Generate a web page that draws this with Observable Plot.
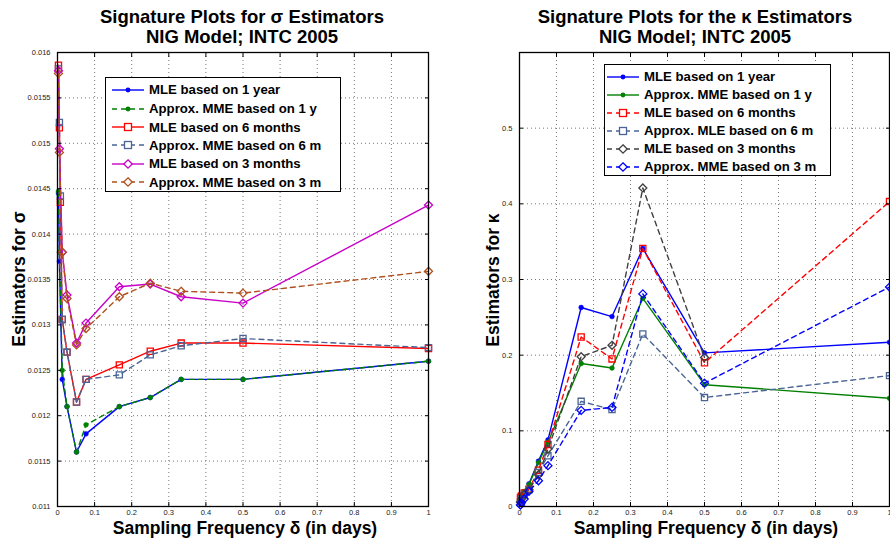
<!DOCTYPE html>
<html><head><meta charset="utf-8">
<script src="https://cdn.jsdelivr.net/npm/d3@7"></script>
<script src="https://cdn.jsdelivr.net/npm/@observablehq/plot@0.6"></script>
<style>
body{margin:0;background:#fff;}
#wrap{position:relative;width:890px;height:541px;overflow:hidden;font-family:"Liberation Sans",Arial,sans-serif;color:#000;}
.pl{position:absolute;top:0;}
.title{position:absolute;font-weight:bold;font-size:18.5px;line-height:20px;text-align:center;width:400px;white-space:nowrap;}
.xlab{position:absolute;font-weight:bold;font-size:17.5px;line-height:20px;text-align:center;width:400px;white-space:nowrap;}
.ylab{position:absolute;font-weight:bold;font-size:17.5px;white-space:nowrap;transform:translate(-50%,-50%) rotate(-90deg);}
.legend{position:absolute;border:1px solid #000;background:#fff;}
.lrow{position:absolute;left:0;display:flex;align-items:center;font-weight:bold;font-size:13.2px;white-space:nowrap;}
.lrow svg{flex:none;}
</style></head>
<body><div id="wrap"></div>
<script>
// x positions: sampling frequency in days (1,2,3,5,10,20,30 min of a 390-min day, then 1/6,1/4,1/3,1/2,1 day)
const xDays = [1/390, 2/390, 3/390, 5/390, 10/390, 20/390, 30/390, 1/6, 1/4, 1/3, 1/2, 1];
const xTicks = [0, 0.1, 0.2, 0.3, 0.4, 0.5, 0.6, 0.7, 0.8, 0.9, 1];
const sigmaTicks = [0.011, 0.0115, 0.012, 0.0125, 0.013, 0.0135, 0.014, 0.0145, 0.015, 0.0155, 0.016];
const kappaTicks = [0, 0.1, 0.2, 0.3, 0.4, 0.5];

// Left panel: sigma estimators
const sigmaLabels = ["MLE based on 1 year", "Approx. MME based on 1 y", "MLE based on 6 months",
  "Approx. MME based on 6 m", "MLE based on 3 months", "Approx. MME based on 3 m"];
const sigmaMle1y  = [0.01445, 0.0137, null, 0.0124, 0.0121, 0.0116, 0.0118, 0.0121, 0.0122, 0.0124, 0.0124, 0.0126];
const sigmaMme1y  = [0.01447, 0.0138, null, 0.0125, 0.0121, 0.0116, 0.0119, 0.0121, 0.0122, 0.0124, 0.0124, 0.0126];
const sigmaMle6m  = [0.01586, 0.01517, 0.01435, 0.01306, 0.0127, 0.01215, 0.0124, 0.01256, 0.01271, 0.0128, 0.0128, 0.01274];
const sigmaMme6m  = [0.01582, 0.01523, 0.01442, 0.01306, 0.0127, 0.01215, 0.0124, 0.01245, 0.01267, 0.01277, 0.01285, 0.01275];
const sigmaMle3m  = [0.0158, 0.01494, null, 0.0138, 0.01333, 0.0128, 0.01302, 0.01342, 0.01345, 0.01331, 0.01324, 0.01432];
const sigmaMme3m  = [0.01577, 0.0149, null, 0.0138, 0.01329, 0.01278, 0.01296, 0.01331, 0.01346, 0.01337, 0.01335, 0.01359];
const sigmaColors = ["#0000ff", "#008000", "#ff0000", "#4a6595", "#c800c8", "#b0501e"];
const sigmaDashes = [null, "5,4", null, "5,4", null, "5,4"];
const sigmaSymbols = ["dot", "dot", "square", "square", "diamond", "diamond"];

// Right panel: kappa estimators
const kappaLabels = ["MLE based on 1 year", "Approx. MME based on 1 y", "MLE based on 6 months",
  "Approx. MLE based on 6 m", "MLE based on 3 months", "Approx. MME based on 3 m"];
const kappaMle1y  = [0.008, 0.012, null, 0.018, 0.030, 0.060, 0.088, 0.263, 0.251, 0.341, 0.203, 0.217];
const kappaMme1y  = [0.008, 0.013, null, 0.020, 0.029, 0.058, 0.085, 0.189, 0.183, 0.275, 0.161, 0.143];
const kappaMle6m  = [0.012, 0.014, null, 0.018, 0.023, 0.048, 0.082, 0.224, 0.195, 0.341, 0.190, 0.403];
const kappaAmle6m = [0.005, 0.010, null, 0.015, 0.022, 0.045, 0.067, 0.139, 0.128, 0.228, 0.144, 0.173];
const kappaMle3m  = [0.006, 0.010, null, 0.016, 0.022, 0.042, 0.076, 0.198, 0.213, 0.421, 0.197, null];
const kappaMme3m  = [0.002, 0.005, null, 0.010, 0.020, 0.034, 0.054, 0.127, 0.131, 0.281, 0.163, 0.290];
const kappaColors = ["#0000ff", "#008000", "#ff0000", "#4a6595", "#404040", "#0000ff"];
const kappaDashes = [null, null, "5,4", "5,4", "5,4", "5,4"];
const kappaSymbols = ["dot", "dot", "square", "square", "diamond", "diamond"];

const fmt = d => String(+d.toFixed(4));

function seriesMarks(series, colors, dashes, symbols) {
  const marks = [];
  series.forEach((vals, i) => {
    const data = vals.map((v, j) => ({x: xDays[j], y: v})).filter(d => d.y != null);
    marks.push(Plot.line(data, {x: "x", y: "y", stroke: colors[i], strokeWidth: 1.4,
      strokeDasharray: dashes[i] || undefined}));
    if (symbols[i] === "dot") {
      marks.push(Plot.dot(data, {x: "x", y: "y", r: 2.4, fill: colors[i], stroke: colors[i], strokeWidth: 0.5}));
    } else {
      marks.push(Plot.dot(data, {x: "x", y: "y", r: symbols[i] === "square" ? 3.9 : 3.6,
        symbol: symbols[i] === "square" ? "square2" : "diamond2", fill: "none", stroke: colors[i], strokeWidth: 1.3}));
    }
  });
  return marks;
}

function panel(series, colors, dashes, symbols, yDomain, yTicks, marginLeft, marginRight) {
  return Plot.plot({
    width: 445, height: 541,
    marginLeft, marginRight, marginTop: 52, marginBottom: 35,
    style: {fontFamily: "Liberation Sans, Arial, sans-serif", fontSize: "7.5px", background: "transparent", color: "#222", overflow: "visible"},
    x: {domain: [0, 1]},
    y: {domain: yDomain},
    marks: [
      Plot.gridX(xTicks, {stroke: "#777", strokeOpacity: 1, strokeDasharray: "1,3"}),
      Plot.gridY(yTicks, {stroke: "#777", strokeOpacity: 1, strokeDasharray: "1,3"}),
      ...seriesMarks(series, colors, dashes, symbols),
      Plot.axisX(xTicks, {anchor: "bottom", tickSize: 0, tickPadding: 3, tickFormat: fmt, label: null}),
      Plot.axisY(yTicks, {anchor: "left", tickSize: 0, tickPadding: 7, tickFormat: fmt, label: null}),
      Plot.axisX(xTicks, {anchor: "bottom", tickSize: -4, tickFormat: () => "", label: null, stroke: "#000"}),
      Plot.axisX(xTicks, {anchor: "top", tickSize: -4, tickFormat: () => "", label: null, stroke: "#000"}),
      Plot.axisY(yTicks, {anchor: "left", tickSize: -4, tickFormat: () => "", label: null, stroke: "#000"}),
      Plot.axisY(yTicks, {anchor: "right", tickSize: -4, tickFormat: () => "", label: null, stroke: "#000"}),
      Plot.frame({stroke: "#000", strokeWidth: 1.3})
    ]
  });
}

function markerSvg(color, dash, symbol) {
  let m = "";
  if (symbol === "dot") m = `<circle cx="16" cy="6" r="2.4" fill="${color}"/>`;
  else if (symbol === "square") m = `<rect x="12.5" y="2.5" width="7" height="7" fill="#fff" stroke="${color}" stroke-width="1.3"/>`;
  else m = `<polygon points="16,1.8 20.2,6 16,10.2 11.8,6" fill="#fff" stroke="${color}" stroke-width="1.3"/>`;
  return `<svg width="32" height="12"><line x1="0" y1="6" x2="32" y2="6" stroke="${color}" stroke-width="1.4" ${dash ? `stroke-dasharray="${dash}"` : ""}/>${m}</svg>`;
}

function legend(left, top, w, h, rowTops, labels, colors, dashes, symbols, padLeft, gap) {
  const d = document.createElement("div");
  d.className = "legend";
  Object.assign(d.style, {left: left + "px", top: top + "px", width: w + "px", height: h + "px"});
  labels.forEach((lab, i) => {
    const r = document.createElement("div");
    r.className = "lrow";
    r.style.top = rowTops[i] + "px";
    r.style.left = padLeft + "px";
    r.innerHTML = markerSvg(colors[i], dashes[i], symbols[i]) + `<span style="margin-left:${gap}px">${lab}</span>`;
    d.appendChild(r);
  });
  return d;
}

const wrap = document.getElementById("wrap");
function add(el, left) { el.classList.add("pl"); el.style.left = left + "px"; wrap.appendChild(el); }

add(panel([sigmaMle1y, sigmaMme1y, sigmaMle6m, sigmaMme6m, sigmaMle3m, sigmaMme3m], sigmaColors, sigmaDashes, sigmaSymbols,
  [0.011, 0.016], sigmaTicks, 57, 17), 0);
add(panel([kappaMle1y, kappaMme1y, kappaMle6m, kappaAmle6m, kappaMle3m, kappaMme3m], kappaColors, kappaDashes, kappaSymbols,
  [0, 0.6], kappaTicks, 74, 1), 445);

function html(cls, text, style) {
  const d = document.createElement("div"); d.className = cls; d.innerHTML = text; Object.assign(d.style, style); wrap.appendChild(d);
}
html("title", "Signature Plots for σ Estimators<br>NIG Model; INTC 2005", {left: "42px", top: "7px"});
html("title", "Signature Plots for the κ Estimators<br>NIG Model; INTC 2005", {left: "495px", top: "7px"});
html("xlab", "Sampling Frequency δ (in days)", {left: "45px", top: "518px"});
html("xlab", "Sampling Frequency δ (in days)", {left: "506px", top: "518px"});
html("ylab", "Estimators for σ", {left: "19px", top: "279px"});
html("ylab", "Estimators for κ", {left: "493px", top: "280px"});

wrap.appendChild(legend(105, 77, 234, 113, [4, 23, 41.5, 59.5, 78, 96.5], sigmaLabels, sigmaColors, sigmaDashes, sigmaSymbols, 6, 5));
wrap.appendChild(legend(604, 64, 225, 110, [4, 22, 40, 58, 76, 94], kappaLabels, kappaColors, kappaDashes, kappaSymbols, 2, 5));
</script></body></html>
